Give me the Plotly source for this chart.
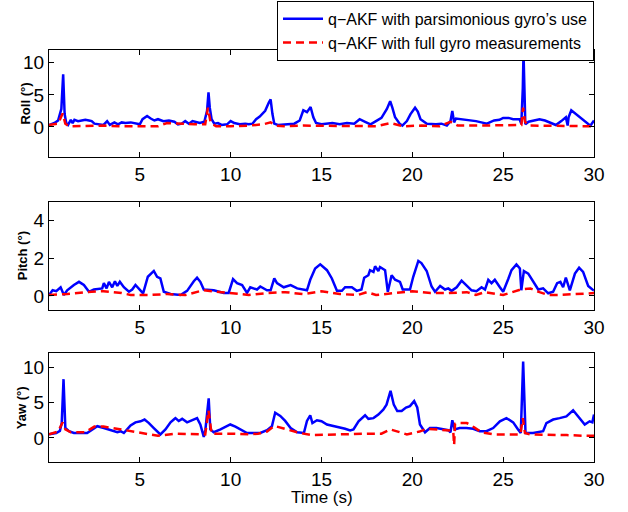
import plotly.graph_objects as go
from plotly.subplots import make_subplots

# ---------------- data ----------------
roll_blue_t = [0.0, 0.3, 0.5, 0.68, 0.78, 0.86, 0.95, 1.05, 1.2, 1.3, 1.4, 1.6, 1.8, 2.0, 2.2, 2.35, 2.5, 2.7, 3.0,
               3.2, 3.35, 3.6, 3.8, 4.0, 4.2, 4.5, 4.8, 5.0, 5.15, 5.4, 5.6, 5.8, 6.0, 6.3, 6.6, 6.9, 7.1, 7.3, 7.5,
               7.7, 7.9, 8.1, 8.3, 8.55, 8.7, 8.78, 8.85, 8.95, 9.1, 9.3, 9.5, 9.8, 10.0, 10.2, 10.5, 10.8, 11.0,
               11.2, 11.4, 11.6, 11.9, 12.1, 12.2, 12.3, 12.4, 12.6, 12.9, 13.2, 13.5, 13.8, 14.0, 14.2, 14.4, 14.55,
               14.7, 15.0, 15.3, 15.6, 16.0, 16.4, 16.8, 17.1, 17.4, 17.7, 18.0, 18.3, 18.6, 18.78, 18.9, 19.05, 19.3,
               19.45, 19.7, 19.9, 20.15, 20.3, 20.45, 20.8, 21.3, 21.6, 21.9, 22.1, 22.2, 22.3, 22.4, 22.7, 23.0,
               23.5, 23.8, 24.1, 24.5, 24.8, 25.0, 25.3, 25.55, 25.9, 26.0, 26.08, 26.12, 26.17, 26.22, 26.4, 26.7,
               27.0, 27.3, 27.6, 27.9, 28.2, 28.45, 28.55, 28.6, 28.75, 29.1, 29.5, 29.8, 30.0]
roll_blue_v = [0.3, 0.6, 1.0, 2.8, 8.2, 2.0, 0.6, 0.3, 1.1, 0.6, 1.1, 0.9, 1.0, 1.1, 1.0, 0.9, 0.5, 0.4, 0.3,
               0.9, 0.3, 0.7, 0.4, 0.7, 0.6, 0.7, 0.5, 0.4, 1.2, 1.7, 1.3, 1.0, 1.2, 0.9, 1.0, 0.8, 0.4, 0.5, 0.9,
               0.5, 0.9, 0.7, 0.6, 0.8, 2.5, 5.4, 3.0, 1.2, 0.5, 0.6, 0.3, 0.4, 0.9, 0.6, 0.4, 0.5, 0.4,
               0.5, 1.2, 1.6, 2.5, 3.8, 4.3, 2.0, 0.5, 0.3, 0.4, 0.4, 0.5, 1.0, 2.6, 2.3, 3.1, 1.5,
               0.6, 0.4, 0.5, 0.6, 0.4, 0.6, 0.5, 1.2, 0.8, 0.4, 0.9, 1.4, 2.8, 4.0, 3.0, 1.5, 0.5,
               0.2, 0.9, 2.0, 3.0, 2.4, 1.2, 0.5, 0.4, 0.5, 0.2, 0.9, 2.5, 0.7, 1.3, 1.2, 1.1,
               0.9, 0.7, 0.5, 1.0, 1.1, 1.4, 1.4, 1.2, 1.2, 0.5, 6.0, 11.6, 5.0, 0.4, 0.8, 1.0,
               1.2, 1.0, 0.7, 0.3, 0.9, 1.5, 0.2, 1.5, 2.6, 1.8, 0.9, 0.2, 1.0]

roll_red_t = [0.0, 0.5, 0.75, 0.9, 1.1, 2.0, 3.0, 4.0, 5.0, 5.5, 6.0, 6.5, 7.0, 7.5, 8.0, 8.6, 8.75, 8.9, 9.2, 10.0,
              11.0, 11.8, 12.2, 12.5, 13.0, 14.0, 15.0, 16.0, 17.0, 18.0, 18.8, 19.5, 20.5, 21.5, 22.1, 22.5, 23.5,
              24.5, 25.5, 26.0, 26.1, 26.2, 26.4, 27.0, 28.0, 29.0, 30.0]
roll_red_v = [0.3, 0.5, 2.1, 0.5, 0.1, 0.2, 0.2, 0.1, 0.1, 0.0, 0.1, 0.6, 0.5, 0.4, 0.4, 0.4, 3.0, 0.6, 0.1, 0.1,
              0.2, 0.4, 0.7, 0.2, 0.1, 0.2, 0.2, 0.1, 0.2, 0.1, 0.6, 0.1, 0.2, 0.1, 0.8, 0.2, 0.2,
              0.2, 0.3, 0.3, 3.0, 0.8, 0.2, 0.2, 0.2, 0.1, 0.1]

pitch_blue_t = [0.0, 0.2, 0.4, 0.64, 0.82, 1.0, 1.37, 1.65, 1.92, 2.2, 2.47, 2.93, 3.02, 3.17, 3.3, 3.48, 3.63, 3.76,
                3.9, 4.12, 4.4, 4.58, 4.76, 5.04, 5.18, 5.44, 5.77, 5.95, 6.13, 6.32, 6.69, 7.24, 7.6, 7.97, 8.15,
                8.33, 8.52, 9.07, 9.62, 9.89, 10.13, 10.35, 10.63, 10.9, 11.08, 11.45, 11.63, 12.0, 12.2, 12.4,
                12.55, 12.92, 13.3, 13.66, 14.2, 14.38, 14.65, 14.93, 15.3, 15.57, 15.85, 16.12, 16.3, 16.67, 16.94,
                17.2, 17.35, 17.58, 17.67, 17.86, 17.95, 18.13, 18.22, 18.5, 18.65, 18.86, 19.05, 19.32, 19.47,
                19.87, 20.05, 20.33, 20.5, 20.79, 21.06, 21.25, 21.53, 21.8, 21.98, 22.16, 22.44, 22.71, 22.98,
                23.26, 23.53, 23.81, 24.0, 24.18, 24.36, 24.54, 24.82, 25.0, 25.28, 25.46, 25.73, 25.92, 26.0,
                26.14, 26.38, 26.65, 26.93, 27.2, 27.48, 27.75, 27.97, 28.15, 28.3, 28.45, 28.67, 28.95, 29.18,
                29.4, 29.68, 29.91, 30.0]
pitch_blue_v = [0.05, 0.3, 0.25, 0.46, 0.05, 0.3, 0.58, 0.75, 0.58, 0.22, 0.34, 0.4, 0.68, 0.4, 0.75, 0.46, 0.78, 0.53,
                0.75, 0.46, 0.22, 0.34, 0.58, 0.3, 0.14, 1.02, 1.33, 1.02, 0.93, 0.22, 0.1, 0.05, 0.27, 0.78, 0.97,
                0.75, 0.34, 0.3, 0.16, 0.16, 0.9, 0.68, 0.58, 0.16, 0.46, 0.34, 0.5, 0.3, 0.3, 0.93,
                0.68, 0.46, 0.58, 0.4, 0.3, 0.86, 1.46, 1.68, 1.37, 0.93, 0.27, 0.27, 0.46, 0.46, 0.27,
                0.34, 0.97, 1.1, 1.37, 1.28, 1.58, 1.33, 1.54, 1.37, 0.22, 1.1, 0.86, 0.75, 0.34,
                0.34, 1.02, 1.86, 1.75, 1.33, 0.5, 0.22, 0.53, 0.34, 0.4, 0.27, 0.46, 0.81, 0.58,
                0.3, 0.25, 0.46, 0.34, 0.86, 0.68, 0.86, 0.46, 0.22, 0.9, 1.37, 1.68, 1.46, 0.3,
                1.33, 1.19, 0.75, 0.34, 0.4, 0.14, 0.22, 0.68, 0.75, 0.46, 0.97, 0.3, 1.19, 1.5,
                1.28, 0.53, 0.34, 0.3]

pitch_red_t = [0.0, 1.0, 2.0, 3.0, 4.0, 4.5, 5.5, 6.5, 7.5, 8.5, 9.5, 10.5, 11.0, 12.0, 13.0, 14.0, 15.0, 16.0, 17.0,
               17.5, 18.0, 19.0, 20.0, 21.0, 22.0, 23.0, 23.5, 24.0, 25.0, 26.0, 26.5, 27.0, 27.5, 28.0, 29.0, 30.0]
pitch_red_v = [0.05, 0.1, 0.2, 0.25, 0.15, 0.05, 0.05, 0.1, 0.05, 0.3, 0.2, 0.1, 0.05, 0.15, 0.2, 0.1, 0.25, 0.1, 0.05,
               0.2, 0.05, 0.15, 0.25, 0.15, 0.15, 0.2, 0.05, 0.2, 0.05, 0.35, 0.4, 0.2, 0.05, 0.05, 0.1, 0.15]

yaw_blue_t = [0.0, 0.4, 0.6, 0.7, 0.8, 0.9, 1.1, 1.37, 2.1, 2.38, 2.66, 3.02, 3.39, 3.76, 3.94, 4.12, 4.3, 4.49, 4.76,
              5.04, 5.26, 5.5, 5.77, 6.13, 6.41, 6.69, 6.87, 6.96, 7.14, 7.33, 7.6, 7.88, 8.15, 8.33, 8.52, 8.61,
              8.79, 8.88, 9.07, 9.44, 9.71, 9.98, 10.26, 10.53, 10.9, 11.63, 12.0, 12.27, 12.45, 12.73, 13.0, 13.3,
              13.66, 14.03, 14.2, 14.38, 14.5, 14.75, 15.0, 15.3, 15.85, 16.3, 16.58, 16.76, 17.04, 17.22, 17.4,
              17.58, 17.86, 18.13, 18.4, 18.58, 18.8, 18.98, 19.17, 19.41, 19.65, 19.87, 20.1, 20.27, 20.42, 20.7,
              20.97, 21.33, 21.7, 21.98, 22.1, 22.2, 22.33, 22.6, 22.98, 23.35, 23.71, 24.08, 24.45, 24.82, 25.18,
              25.55, 25.82, 25.97, 26.1, 26.23, 26.65, 27.2, 27.38, 27.75, 28.11, 28.48, 28.85, 29.12, 29.49, 29.76,
              29.91, 30.0]
yaw_blue_v = [0.5, 0.7, 1.0, 2.1, 8.3, 1.4, 0.95, 0.7, 0.7, 1.2, 1.66, 1.4, 1.05, 0.8, 0.95, 0.7, 1.2, 1.75, 2.2,
              2.35, 2.6, 2.1, 1.4, 0.5, 1.2, 2.2, 2.6, 2.8, 2.4, 2.7, 2.2, 2.5, 2.8, 1.9, 0.14, 1.2,
              5.6, 1.2, 0.8, 1.2, 1.6, 1.9, 1.6, 1.2, 0.7, 0.7, 1.1, 1.66, 3.55, 3.1, 2.4, 1.4,
              0.8, 0.7, 2.4, 3.2, 2.1, 2.5, 2.35, 1.9, 1.6, 1.3, 1.05, 1.2, 2.35, 2.8, 3.2,
              2.7, 2.8, 3.3, 4.0, 4.7, 6.65, 4.7, 3.8, 3.8, 4.3, 4.5, 5.2, 4.3, 1.9, 0.8,
              1.4, 1.4, 1.2, 1.1, 0.8, 2.5, 1.2, 1.4, 1.4, 1.3, 0.95, 0.95, 1.4, 2.35, 2.8,
              2.2, 1.2, 0.7, 10.8, 0.7, 0.7, 0.95, 2.1, 2.6, 2.8, 3.05, 3.9, 3.05, 1.9, 2.35,
              2.2, 3.3]

yaw_red_t = [0.0, 0.5, 0.75, 0.9, 1.2, 2.0, 2.5, 3.0, 3.5, 4.0, 4.5, 5.0, 6.0, 7.0, 8.0, 8.6, 8.78, 8.95, 10.0, 11.0,
             11.5, 12.0, 12.4, 12.8, 13.3, 13.8, 14.5, 15.5, 16.5, 17.5, 18.3, 18.8, 19.7, 20.4, 20.8, 21.5, 22.0,
             22.25, 22.3, 22.35, 22.6, 23.0, 23.4, 23.8, 24.5, 25.5, 25.95, 26.08, 26.2, 26.5, 27.5, 28.5, 29.5,
             30.0]
yaw_red_v = [0.5, 0.9, 2.2, 1.2, 0.8, 0.8, 1.6, 1.6, 1.4, 1.2, 0.9, 0.7, 0.3, 0.6, 0.6, 0.5, 3.9, 0.6, 0.6, 0.5,
             0.6, 0.9, 1.7, 1.4, 1.0, 0.7, 0.4, 0.5, 0.6, 0.6, 0.6, 1.2, 0.5, 0.9, 1.3, 1.2, 1.1,
             1.0, -1.0, 2.0, 2.1, 2.1, 1.5, 0.8, 0.5, 0.5, 0.5, 2.8, 0.7, 0.5, 0.5, 0.4, 0.3,
             0.3]

x_ticks = [5, 10, 15, 20, 25, 30]
roll_ticks = [0, 5, 10]
pitch_ticks = [0, 2, 4]
yaw_ticks = [0, 5, 10]
legend_names = ["q\u2212AKF with parsimonious gyro\u2019s use", "q\u2212AKF with full gyro measurements"]
y_titles = ["Roll (\u00b0)", "Pitch (\u00b0)", "Yaw (\u00b0)"]

# ---------------- figure ----------------
FONT = "Liberation Sans, Arial, Helvetica, sans-serif"
BLUE = "#0000FF"
RED = "#FF0000"

fig = make_subplots(rows=3, cols=1)

series = [
    (roll_blue_t, roll_blue_v, roll_red_t, roll_red_v),
    (pitch_blue_t, pitch_blue_v, pitch_red_t, pitch_red_v),
    (yaw_blue_t, yaw_blue_v, yaw_red_t, yaw_red_v),
]
for i, (bt, bv, rt, rv) in enumerate(series):
    fig.add_trace(go.Scatter(x=bt, y=bv, mode="lines", name=legend_names[0],
                             line=dict(color=BLUE, width=2.5), showlegend=(i == 0)),
                  row=i + 1, col=1)
    fig.add_trace(go.Scatter(x=rt, y=rv, mode="lines", name=legend_names[1],
                             line=dict(color=RED, width=2.5, dash="8px,5px"), showlegend=(i == 0)),
                  row=i + 1, col=1)

domains = [[0.7403, 1.0], [0.3689, 0.6311], [0.0, 0.2646]]
yranges = [[-4.7, 12], [-0.75, 5], [-3.4, 12]]
yticks = [roll_ticks, pitch_ticks, yaw_ticks]

axis_common = dict(showline=True, linecolor="black", linewidth=1, mirror="ticks",
                   ticks="inside", ticklen=5, tickcolor="black", showgrid=False, zeroline=False,
                   tickfont=dict(family=FONT, size=19, color="black"))

for i in range(3):
    xa = "xaxis" if i == 0 else f"xaxis{i + 1}"
    ya = "yaxis" if i == 0 else f"yaxis{i + 1}"
    fig.layout[xa].update(range=[0, 30], tickvals=x_ticks, domain=[0, 1], **axis_common)
    fig.layout[ya].update(range=yranges[i], tickvals=yticks[i], domain=domains[i], **axis_common)

title_x = [-0.044, -0.049, -0.05]
for i in range(3):
    d = domains[i]
    fig.add_annotation(text="<b>" + y_titles[i] + "</b>", xref="paper", yref="paper",
                       x=title_x[i], y=(d[0] + d[1]) / 2, textangle=-90, showarrow=False,
                       xanchor="center", yanchor="middle",
                       font=dict(family=FONT, size=13, color="black"))

fig.add_annotation(text="Time (s)", xref="paper", yref="paper", x=0.5, y=-0.085,
                   showarrow=False, xanchor="center", yanchor="middle",
                   font=dict(family=FONT, size=17, color="black"))

fig.update_layout(
    width=628, height=512,
    margin=dict(l=49, r=34, t=50, b=50, autoexpand=False),
    plot_bgcolor="white", paper_bgcolor="white",
    legend=dict(x=1.0, y=1.1195, xanchor="right", yanchor="top",
                bordercolor="black", borderwidth=1, bgcolor="white",
                font=dict(family=FONT, size=16, color="black"),
                tracegroupgap=0, itemwidth=40),
)

fig.write_html("out.html", config={"displayModeBar": False},
               post_script="document.body.style.margin='0';document.body.style.padding='0';")
